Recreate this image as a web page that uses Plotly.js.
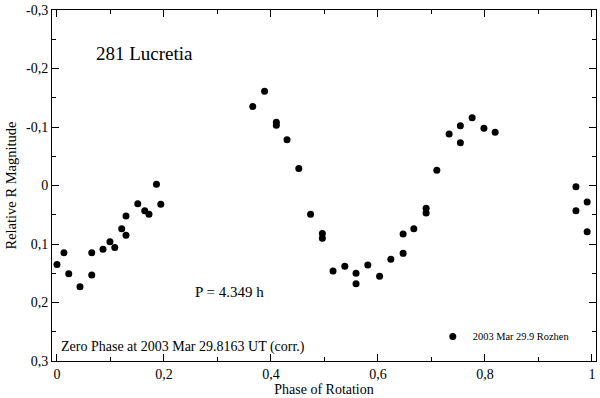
<!DOCTYPE html>
<html><head><meta charset="utf-8">
<script src="https://cdn.plot.ly/plotly-3.0.1.min.js"></script>
<style>html,body{margin:0;padding:0;background:#fff}#c{width:600px;height:398px}</style>
</head><body><div id="c"></div>
<script>
const phase = [0,0.013,0.022,0.043,0.065,0.065,0.086,0.099,0.108,0.121,0.129,0.129,0.151,0.164,0.172,0.186,0.194,
0.366,0.388,0.410,0.410,0.430,0.452,0.474,0.496,0.496,0.516,0.538,0.559,0.559,0.581,0.603,0.624,0.647,0.647,0.667,0.690,0.690,0.710,0.733,0.754,0.754,0.776,0.798,0.819,0.970,0.970,0.991,0.991];
const mag = [0.135,0.115,0.151,0.173,0.115,0.153,0.109,0.096,0.106,0.074,0.085,0.052,0.031,0.043,0.049,-0.002,0.032,
-0.135,-0.161,-0.108,-0.103,-0.078,-0.029,0.049,0.082,0.090,0.146,0.138,0.150,0.168,0.136,0.155,0.126,0.083,0.116,0.074,0.039,0.047,-0.026,-0.088,-0.102,-0.073,-0.116,-0.098,-0.091,0.002,0.043,0.028,0.079];
const xTickVals = [0,0.2,0.4,0.6,0.8,1];
const xTickText = ["0","0,2","0,4","0,6","0,8","1"];
const yTickVals = [-0.3,-0.2,-0.1,0,0.1,0.2,0.3];
const yTickText = ["-0,3","-0,2","-0,1","0","0,1","0,2","0,3"];
const seriesName = "2003 Mar 29.9 Rozhen";
const F = "Liberation Serif, Times New Roman, serif";

const trace = {x: phase, y: mag, mode: 'markers', type: 'scatter', name: seriesName,
  marker: {color: '#000', size: 7}};
const axCommon = {showline: true, linecolor: '#000', linewidth: 1, mirror: 'allticks', ticks: 'inside',
  ticklen: 7, tickcolor: '#000', showgrid: false, zeroline: false, tickfont: {family: F, size: 14, color: '#000'}};
const layout = {
  width: 600, height: 398, margin: {l: 52, r: 4, t: 10, b: 37},
  paper_bgcolor: '#fff', plot_bgcolor: '#fff', font: {family: F, color: '#000'},
  showlegend: true,
  legend: {x: 0.70, y: 0.07, xanchor: 'left', yanchor: 'middle', bgcolor: 'rgba(0,0,0,0)', font: {family: F, size: 10.4, color: '#000'}},
  xaxis: Object.assign({}, axCommon, {range: [-0.0093, 1.0075], tickmode: 'array', tickvals: xTickVals, ticktext: xTickText,
    minor: {dtick: 0.1, tick0: 0, ticks: 'inside', ticklen: 4, tickcolor: '#000'},
    title: {text: 'Phase of Rotation', font: {family: F, size: 14, color: '#000'}, standoff: 3}}),
  yaxis: Object.assign({}, axCommon, {range: [0.3, -0.3], tickmode: 'array', tickvals: yTickVals, ticktext: yTickText,
    minor: {dtick: 0.05, tick0: 0, ticks: 'inside', ticklen: 4, tickcolor: '#000'},
    title: {text: 'Relative R Magnitude', font: {family: F, size: 14.5, color: '#000'}, standoff: 5}}),
  annotations: [
    {text: '281 Lucretia', xref: 'paper', yref: 'paper', x: 0.078, y: 0.875, xanchor: 'left', yanchor: 'middle', showarrow: false, font: {family: F, size: 19, color: '#000'}},
    {text: 'P = 4.349 h', xref: 'paper', yref: 'paper', x: 0.259, y: 0.197, xanchor: 'left', yanchor: 'middle', showarrow: false, font: {family: F, size: 15, color: '#000'}},
    {text: 'Zero Phase at 2003 Mar 29.8163 UT (corr.)', xref: 'paper', yref: 'paper', x: 0.013, y: 0.04, xanchor: 'left', yanchor: 'middle', showarrow: false, font: {family: F, size: 14, color: '#000'}}
  ]
};
Plotly.newPlot('c', [trace], layout, {staticPlot: true, displayModeBar: false});
</script></body></html>
